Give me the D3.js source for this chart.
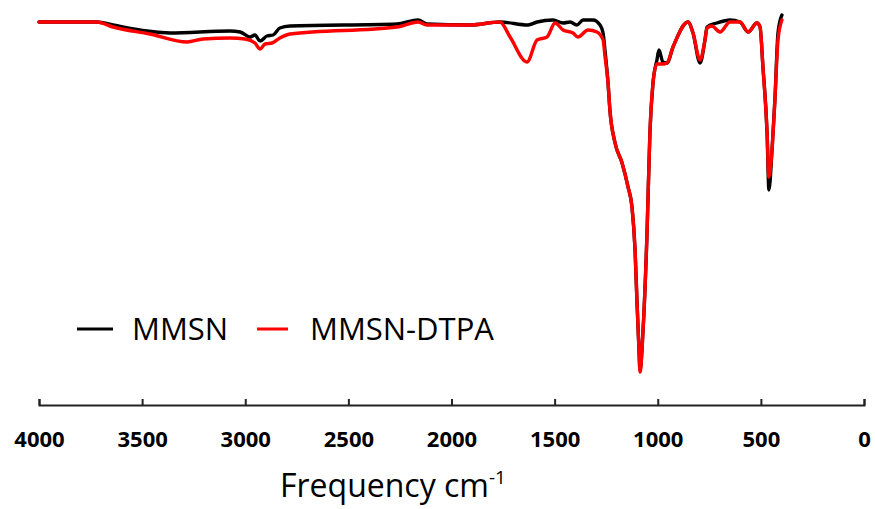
<!DOCTYPE html>
<html>
<head>
<meta charset="utf-8">
<script src="https://cdn.jsdelivr.net/npm/d3@7"></script>
<style>
  body { margin: 0; background: #fff; }
  .line { fill: none; stroke-width: 3.4; stroke-linejoin: round; stroke-linecap: round; }
</style>
</head>
<body>
<script>
//#### DATA ####
// wavenumber (cm-1) and transmittance (arbitrary %)
var mmsnX = [4000,3719,3641,3476,3365,3074,3025,2977,2953,2928,2895,2865,2832,2783,2264,2162,2119,1910,1765,1629,1585,1508,1459,1425,1392,1362,1314,1280,1265,1256,1241,1232,1207,1173,1144,1125,1110,1101,1091,1086,1072,1052,1038,1023,1004,994,975,955,926,853,829,795,771,761,713,650,601,562,519,504,490,470,461,446,432,417,398];
var mmsnT = [94.5,94.5,93.75,92.25,91.75,92.25,92,90.75,91.25,89.75,91,91.25,93,93.5,94,95,94,93.75,94.5,93.75,94.5,95,94.25,94.5,93.75,95,95,93.75,91.75,87.5,79.25,72.5,64.25,59.25,53.25,48.25,37.5,25,12.5,7.5,16.75,41.75,66.75,79.25,85,87.5,84.5,84.25,88.25,94.5,91.75,84.25,90,93.25,94.25,95,94.5,92,94.25,93.25,83.25,66.75,52.5,62.5,75,91.75,96.25];

var dtpaX = [4000,3719,3641,3462,3282,3205,3074,3001,2953,2928,2904,2870,2832,2783,2264,2162,2119,1910,1765,1716,1634,1585,1537,1498,1459,1411,1387,1338,1295,1265,1256,1241,1232,1207,1173,1144,1125,1110,1101,1091,1086,1072,1052,1038,1023,1004,975,955,926,853,829,795,771,761,738,698,650,601,562,519,504,490,470,461,446,432,417,398];
var dtpaT = [94.5,94.5,93.25,91.5,89.5,90.25,90.5,90.25,89.25,87.75,89,89.25,90.5,91.5,93.25,94.5,93.75,93.75,94.5,90.75,84.5,90,90.75,94.25,92.5,91.75,90.75,92.5,92,90,86,79.25,72.5,64.25,59.25,53.25,48.25,37.5,25,12.5,7,16.75,41.75,66.75,79.25,84,84,84.25,88.25,94.5,91.75,85,90,93,93.5,92,94.5,94.5,92,94.25,93.25,83.25,67,55.75,62.5,75,90,95];

var xTicks = [4000,3500,3000,2500,2000,1500,1000,500,0];
var seriesNames = ["MMSN", "MMSN-DTPA"];
var seriesColors = ["#000000", "#ff0000"];
//##############

var width_outer = 875;
var height_outer = 509;

var svg = d3.select("body").append("svg")
  .attr("width", width_outer)
  .attr("height", height_outer);

var x = d3.scaleLinear()
  .domain([4000, 0])
  .range([39, 864]);

var y = d3.scaleLinear()
  .domain([0, 100])
  .range([400, 0]);

// axis (ticks point up, labels bold)
var xAxis = d3.axisBottom(x)
  .tickValues(xTicks)
  .tickFormat(d3.format("d"))
  .tickSize(-6)
  .tickSizeOuter(-6)
  .tickPadding(26);

var gx = svg.append("g")
  .attr("class", "x axis")
  .attr("transform", "translate(0,405)")
  .call(xAxis);

gx.select(".domain").attr("stroke", "#222").attr("stroke-width", 2);
gx.selectAll(".tick line").attr("stroke", "#222").attr("stroke-width", 2);
gx.selectAll(".tick text")
  .attr("fill", "#000")
  .style("font-family", "'Open Sans', sans-serif")
  .style("font-weight", "bold")
  .style("font-size", "22px");

// axis title
var title = svg.append("text")
  .attr("x", 280)
  .attr("y", 497)
  .style("font-family", "'Open Sans', sans-serif")
  .style("font-size", "32px")
  .attr("fill", "#000")
  .text("Frequency cm");
title.append("tspan")
  .attr("dy", -13)
  .style("font-size", "19px")
  .text("-1");

// spectra
var line = d3.line()
  .x(function(d) { return x(d.x); })
  .y(function(d) { return y(d.y); })
  .curve(d3.curveMonotoneX);

var series = [
  mmsnX.map(function(v, i) { return {x: v, y: mmsnT[i]}; }),
  dtpaX.map(function(v, i) { return {x: v, y: dtpaT[i]}; })
];

series.forEach(function(s, i) {
  svg.append("path")
    .datum(s)
    .attr("class", "line")
    .attr("d", line)
    .style("stroke", seriesColors[i]);
});

// legend
var legendPos = [{x1: 77, x2: 113, tx: 132}, {x1: 257, x2: 288, tx: 310}];
seriesNames.forEach(function(name, i) {
  var p = legendPos[i];
  svg.append("line")
    .attr("x1", p.x1).attr("x2", p.x2)
    .attr("y1", 329).attr("y2", 329)
    .attr("stroke", seriesColors[i])
    .attr("stroke-width", 3);
  svg.append("text")
    .attr("x", p.tx)
    .attr("y", 340)
    .style("font-family", "'Open Sans', sans-serif")
    .style("font-size", "31px")
    .attr("fill", "#000")
    .text(name);
});
</script>
</body>
</html>
